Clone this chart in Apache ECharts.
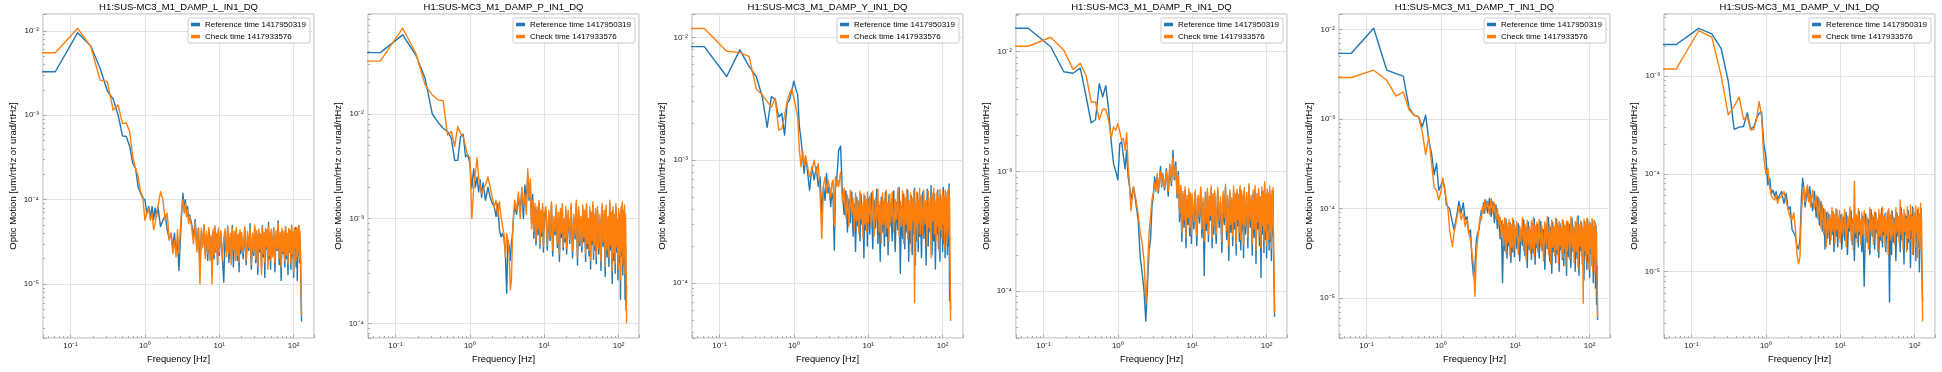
<!DOCTYPE html>
<html>
<head>
<meta charset="utf-8">
<script src="https://cdn.jsdelivr.net/npm/echarts@6.0.0/dist/echarts.min.js"></script>
<style>
html,body{margin:0;padding:0;background:#fff;}
#c{width:1942px;height:372px;}
</style>
</head>
<body>
<div id="c"></div>
<script>
// ---------------- DATA ----------------
// Frequency bins [Hz]. First entry stands for the DC bin (drawn off the left edge of the log axis).
const freqs = [0.01,
  0.0625,0.125,0.1875,0.25,0.3125,0.375,0.4375,0.5,0.5625,0.625,0.6875,0.75,0.8125,0.875,0.9375,1,1.0625,1.125,1.1875,1.25,1.3125,1.375,1.4375,1.5,
  1.625,1.75,1.875,2,2.125,2.25,2.375,2.5,2.625,2.75,2.875,3,3.125,3.25,3.375,3.5,3.625,3.75,3.875,4,
  4.25,4.5,4.75,5,5.25,5.5,5.75,6,6.25,6.5,6.75,7,7.25,7.5,7.75,8,8.25,8.5,8.75,9,9.25,9.5,9.75,10,
  10.5,11,11.5,12,12.5,13,13.5,14,14.5,15,15.5,16,16.5,17,17.5,18,18.5,19,19.5,20,
  21,22,23,24,25,26,27,28,29,30,31,32,33,34,35,36,37,38,39,40,41,42,43,44,45,46,47,48,49,50,
  52,54,56,58,60,62,64,66,68,70,72,74,76,78,80,82,84,86,88,90,92,94,96,98,100,102,104,106,108,110,112,114,116,118,120,122,124,126,128];

const panelTitles = ['H1:SUS-MC3_M1_DAMP_L_IN1_DQ','H1:SUS-MC3_M1_DAMP_P_IN1_DQ','H1:SUS-MC3_M1_DAMP_Y_IN1_DQ',
  'H1:SUS-MC3_M1_DAMP_R_IN1_DQ','H1:SUS-MC3_M1_DAMP_T_IN1_DQ','H1:SUS-MC3_M1_DAMP_V_IN1_DQ'];
const seriesNames = ['Reference time 1417950319','Check time 1417933576'];
const xName = 'Frequency [Hz]';
const yName = 'Optic Motion [um/rtHz or urad/rtHz]';
const xRange = [0.0427, 188];
const yMins = [2.3e-6, 7.24e-5, 3.56e-5, 4.05e-5, 3.6e-6, 2.1e-6];
const yMaxs = [0.0158, 0.0902, 0.01549, 0.02065, 0.01483, 0.0043];

// ---- L ----
const refL = [3.27e-3,
  3.27e-3,9.5e-3,6.6e-3,3.6e-3,1.95e-3,1.55e-3,1.0e-3,5.7e-4,5.6e-4,4.3e-4,2.7e-4,2.35e-4,1.4e-4,1.2e-4,1.04e-4,1.0e-4,6.9e-5,8.3e-5,6.3e-5,8.3e-5,5.8e-5,8.0e-5,6.3e-5,8.3e-5,
  4.8e-5,5.7e-5,6.6e-5,4.4e-5,3.4e-5,4.0e-5,2.7e-5,4.0e-5,2.3e-5,3.3e-5,1.45e-5,3.3e-5,6.9e-5,1.19e-4,7.6e-5,1.0e-4,6.9e-5,8.3e-5,5.7e-5,6.6e-5,
  5.2e-5,3.6e-5,5.8e-5,2.6e-5,4.6e-5,1.6e-5,4.2e-5,2.9e-5,5.0e-5,2.2e-5,3.9e-5,1.9e-5,4.4e-5,2.5e-5,3.6e-5,1.3e-5,4.1e-5,2.0e-5,4.7e-5,2.4e-5,3.8e-5,1.7e-5,4.3e-5,2.2e-5,
  4.0e-5,2.1e-5,1.05e-5,3.9e-5,2.4e-5,4.6e-5,1.8e-5,3.5e-5,2.2e-5,4.9e-5,1.6e-5,3.7e-5,2.6e-5,4.4e-5,1.9e-5,3.2e-5,1.4e-5,4.1e-5,2.3e-5,3.6e-5,
  2.0e-5,4.5e-5,1.7e-5,3.8e-5,2.5e-5,5.2e-5,1.5e-5,3.4e-5,2.2e-5,4.7e-5,1.8e-5,3.9e-5,1.3e-5,4.2e-5,2.4e-5,3.6e-5,1.6e-5,4.9e-5,2.1e-5,3.3e-5,1.2e-5,4.4e-5,2.6e-5,3.8e-5,1.7e-5,5.4e-5,2.0e-5,3.5e-5,1.5e-5,4.1e-5,
  2.2e-5,4.6e-5,1.4e-5,3.7e-5,2.5e-5,5.6e-5,1.7e-5,3.9e-5,1.1e-5,4.3e-5,2.3e-5,3.5e-5,1.6e-5,4.8e-5,2.0e-5,3.2e-5,1.3e-5,4.5e-5,2.4e-5,3.9e-5,1.5e-5,5.0e-5,2.1e-5,3.6e-5,1.2e-5,4.2e-5,2.6e-5,4.7e-5,1.6e-5,3.8e-5,1.1e-5,4.4e-5,2.2e-5,4.9e-5,1.8e-5,3.4e-5,1.9e-5,6.5e-6,3.6e-6];
const chkL = [5.5e-3,
  5.5e-3,1.07e-2,6.5e-3,2.6e-3,2.5e-3,1.15e-3,1.32e-3,8.0e-4,8.1e-4,6.4e-4,3.2e-4,2.35e-4,1.87e-4,1.24e-4,1.09e-4,5.7e-5,6.9e-5,7.9e-5,5.7e-5,6.9e-5,4.4e-5,5.2e-5,6.9e-5,8.3e-5,
  1.24e-4,1.0e-4,5.7e-5,6.9e-5,3.3e-5,4.0e-5,2.3e-5,3.3e-5,2.1e-5,4.4e-5,2.3e-5,4.4e-5,8.0e-5,1.0e-4,6.9e-5,9.1e-5,6.3e-5,7.6e-5,5.2e-5,6.3e-5,
  4.8e-5,3.0e-5,5.4e-5,2.4e-5,4.4e-5,1.0e-5,4.6e-5,2.7e-5,5.1e-5,2.0e-5,4.2e-5,2.3e-5,4.7e-5,1.9e-5,3.8e-5,1.0e-5,4.5e-5,2.2e-5,4.9e-5,2.5e-5,4.0e-5,1.8e-5,4.6e-5,2.4e-5,
  4.3e-5,1.9e-5,3.5e-5,4.5e-5,2.1e-5,4.9e-5,2.3e-5,4.0e-5,1.7e-5,4.6e-5,2.5e-5,4.2e-5,1.9e-5,4.7e-5,2.2e-5,3.9e-5,1.8e-5,4.4e-5,2.6e-5,4.1e-5,
  2.3e-5,4.8e-5,1.9e-5,4.2e-5,2.7e-5,4.6e-5,1.7e-5,4.0e-5,2.4e-5,5.0e-5,2.0e-5,4.3e-5,1.6e-5,4.5e-5,2.6e-5,3.9e-5,1.3e-5,4.7e-5,2.3e-5,4.1e-5,1.8e-5,4.6e-5,2.8e-5,4.4e-5,1.5e-5,4.9e-5,2.2e-5,4.0e-5,1.9e-5,4.5e-5,
  2.1e-5,4.7e-5,1.8e-5,4.3e-5,2.6e-5,5.2e-5,2.0e-5,4.1e-5,1.6e-5,4.6e-5,2.4e-5,4.2e-5,1.9e-5,4.8e-5,2.2e-5,4.0e-5,1.7e-5,4.5e-5,2.5e-5,4.3e-5,1.8e-5,4.9e-5,2.3e-5,4.1e-5,1.4e-5,4.6e-5,2.7e-5,4.4e-5,1.9e-5,4.7e-5,2.1e-5,4.5e-5,2.4e-5,5.0e-5,2.0e-5,4.2e-5,2.2e-5,1.0e-5,4.3e-6];

// ---- P ----
const refP = [3.86e-2,
  3.86e-2,5.7e-2,3.66e-2,2.19e-2,1.0e-2,8.3e-3,7.3e-3,6.8e-3,5.9e-3,3.6e-3,3.6e-3,6.1e-3,6.4e-3,3.9e-3,4.1e-3,3.4e-3,1.95e-3,3.0e-3,2.0e-3,2.5e-3,1.8e-3,2.35e-3,1.6e-3,2.2e-3,
  1.5e-3,2.0e-3,1.6e-3,1.4e-3,1.3e-3,1.05e-3,1.4e-3,7.8e-4,6.7e-4,7.2e-4,6.5e-4,4.7e-4,1.94e-4,6.2e-4,5.4e-4,4.0e-4,5.9e-4,7.2e-4,1.05e-3,1.3e-3,
  1.1e-3,1.6e-3,1.2e-3,1.9e-3,1.0e-3,2.1e-3,1.4e-3,2.6e-3,1.5e-3,2.2e-3,9.0e-4,1.7e-3,6.5e-4,1.3e-3,5.6e-4,1.2e-3,7.0e-4,1.4e-3,5.2e-4,1.1e-3,6.8e-4,1.3e-3,4.8e-4,1.0e-3,
  1.2e-3,5.0e-4,1.1e-3,6.2e-4,1.35e-3,4.4e-4,9.5e-4,7.0e-4,1.25e-3,5.3e-4,1.0e-3,3.9e-4,1.15e-3,6.6e-4,1.3e-3,5.0e-4,9.0e-4,6.0e-4,1.2e-3,4.6e-4,
  1.1e-3,5.8e-4,1.3e-3,4.2e-4,1.0e-3,6.4e-4,1.4e-3,3.6e-4,1.2e-3,5.5e-4,9.8e-4,4.8e-4,1.25e-3,6.0e-4,1.1e-3,3.9e-4,1.3e-3,5.2e-4,9.2e-4,4.4e-4,1.2e-3,3.3e-4,1.05e-3,5.7e-4,1.35e-3,4.1e-4,1.0e-3,5.0e-4,1.15e-3,3.7e-4,
  1.2e-3,4.6e-4,1.0e-3,3.2e-4,1.3e-3,5.4e-4,1.1e-3,2.8e-4,1.25e-3,4.3e-4,9.5e-4,3.5e-4,1.4e-3,5.0e-4,1.05e-3,2.4e-4,1.2e-3,4.0e-4,1.0e-3,3.0e-4,1.3e-3,4.8e-4,9.0e-4,2.6e-4,1.15e-3,3.8e-4,1.0e-3,1.7e-4,1.2e-3,4.4e-4,1.35e-3,2.9e-4,1.1e-3,3.6e-4,1.25e-3,1.7e-4,5.5e-4,1.35e-4,2.3e-4];
const chkP = [3.2e-2,
  3.2e-2,6.6e-2,3.8e-2,1.9e-2,1.52e-2,1.36e-2,1.34e-2,6.3e-3,6.8e-3,4.9e-3,7.6e-3,6.5e-3,6.1e-3,4.9e-3,3.9e-3,3.9e-3,1.0e-3,1.95e-3,1.9e-3,3.8e-3,2.5e-3,2.0e-3,1.75e-3,1.9e-3,
  2.1e-3,2.5e-3,2.0e-3,1.6e-3,1.3e-3,1.5e-3,1.05e-3,1.45e-3,1.05e-3,8.4e-4,7.2e-4,4.3e-4,7.2e-4,6.2e-4,4.7e-4,2.1e-4,2.6e-4,7.2e-4,1.1e-3,1.5e-3,
  1.2e-3,1.8e-3,1.0e-3,2.0e-3,1.3e-3,1.7e-3,1.1e-3,3.0e-3,1.6e-3,2.4e-3,8.0e-4,1.5e-3,7.5e-4,1.4e-3,6.2e-4,1.3e-3,7.8e-4,1.5e-3,5.8e-4,1.2e-3,7.4e-4,1.4e-3,5.4e-4,1.1e-3,
  1.3e-3,5.6e-4,1.2e-3,6.8e-4,1.45e-3,5.0e-4,1.05e-3,7.6e-4,1.35e-3,5.8e-4,1.15e-3,4.6e-4,1.25e-3,7.2e-4,1.4e-3,5.4e-4,1.0e-3,6.5e-4,1.3e-3,5.2e-4,
  1.2e-3,6.3e-4,1.4e-3,4.9e-4,1.1e-3,7.0e-4,1.5e-3,4.3e-4,1.3e-3,6.0e-4,1.05e-3,5.4e-4,1.35e-3,6.6e-4,1.2e-3,4.6e-4,1.4e-3,5.8e-4,1.0e-3,5.0e-4,1.3e-3,4.0e-4,1.15e-3,6.2e-4,1.45e-3,4.8e-4,1.1e-3,5.6e-4,1.25e-3,4.4e-4,
  1.3e-3,5.2e-4,1.1e-3,3.9e-4,1.4e-3,6.0e-4,1.2e-3,3.5e-4,1.35e-3,5.0e-4,1.05e-3,4.2e-4,1.5e-3,5.6e-4,1.15e-3,3.2e-4,1.3e-3,4.7e-4,1.1e-3,3.7e-4,1.4e-3,5.4e-4,1.0e-3,3.3e-4,1.25e-3,4.5e-4,1.1e-3,2.6e-4,1.3e-3,5.0e-4,1.45e-3,3.6e-4,1.2e-3,4.3e-4,1.35e-3,3.0e-4,1.1e-3,4.0e-4,1.0e-4];

// ---- Y ----
const refY = [8.4e-3,
  8.4e-3,4.8e-3,7.9e-3,5.8e-3,4.8e-3,3.3e-3,1.85e-3,3.3e-3,3.1e-3,2.25e-3,2.4e-3,1.6e-3,2.9e-3,3.1e-3,3.7e-3,4.4e-3,3.8e-3,3.4e-3,1.87e-3,1.46e-3,1.08e-3,7.8e-4,1.08e-3,8.8e-4,
  5.7e-4,8.8e-4,6.9e-4,8.8e-4,6.1e-4,7.3e-4,3.7e-4,6.1e-4,4.7e-4,7.8e-4,5.4e-4,6.1e-4,4.2e-4,5.4e-4,4.7e-4,1.85e-4,6.1e-4,6.9e-4,8.8e-4,1.2e-3,
  1.3e-3,5.2e-4,3.6e-4,5.6e-4,2.6e-4,4.8e-4,3.1e-4,5.5e-4,2.4e-4,4.4e-4,1.8e-4,5.0e-4,2.9e-4,4.6e-4,2.2e-4,5.3e-4,3.0e-4,4.2e-4,1.6e-4,5.1e-4,2.7e-4,4.5e-4,2.0e-4,4.9e-4,
  2.5e-4,5.4e-4,1.9e-4,4.7e-4,2.8e-4,5.8e-4,2.1e-4,4.3e-4,1.5e-4,5.0e-4,2.6e-4,4.6e-4,2.0e-4,5.5e-4,2.4e-4,4.1e-4,1.7e-4,5.2e-4,2.9e-4,4.4e-4,
  2.2e-4,5.6e-4,1.8e-4,4.5e-4,2.7e-4,6.0e-4,1.2e-4,4.2e-4,2.3e-4,5.3e-4,1.9e-4,4.8e-4,2.6e-4,5.7e-4,1.5e-4,4.4e-4,2.1e-4,5.1e-4,1.7e-4,4.6e-4,2.5e-4,5.9e-4,1.4e-4,4.3e-4,2.2e-4,5.4e-4,1.8e-4,4.7e-4,2.4e-4,5.0e-4,
  1.6e-4,5.5e-4,2.3e-4,4.6e-4,1.4e-4,5.8e-4,2.0e-4,4.4e-4,2.6e-4,6.2e-4,1.7e-4,4.9e-4,2.2e-4,5.3e-4,1.3e-4,4.5e-4,2.5e-4,5.7e-4,1.9e-4,4.8e-4,1.5e-4,5.2e-4,2.4e-4,4.4e-4,1.8e-4,6.0e-4,2.1e-4,4.7e-4,1.6e-4,5.4e-4,2.3e-4,4.6e-4,1.7e-4,5.6e-4,2.0e-4,6.4e-4,7.2e-5,1.2e-4,6.0e-5];
const chkY = [1.18e-2,
  1.18e-2,7.7e-3,7.5e-3,7.0e-3,3.8e-3,3.4e-3,3.0e-3,2.7e-3,3.2e-3,1.76e-3,1.8e-3,2.3e-3,3.0e-3,3.5e-3,3.8e-3,3.2e-3,2.7e-3,2.25e-3,1.2e-3,8.8e-4,1.2e-3,9.1e-4,1.08e-3,9.4e-4,
  7.3e-4,8.3e-4,1.0e-3,7.8e-4,9.4e-4,5.4e-4,2.3e-4,6.1e-4,7.3e-4,5.4e-4,6.9e-4,6.1e-4,5.0e-4,6.5e-4,6.9e-4,2.9e-4,7.3e-4,6.1e-4,6.9e-4,6.1e-4,
  8.0e-4,4.6e-4,5.9e-4,3.4e-4,5.2e-4,2.9e-4,5.7e-4,3.6e-4,4.9e-4,2.7e-4,5.4e-4,3.2e-4,4.7e-4,2.5e-4,5.6e-4,3.3e-4,4.5e-4,2.3e-4,5.3e-4,3.0e-4,4.8e-4,2.6e-4,5.5e-4,3.1e-4,
  5.1e-4,2.8e-4,5.6e-4,2.4e-4,4.9e-4,3.2e-4,5.8e-4,2.6e-4,4.6e-4,2.1e-4,5.4e-4,3.0e-4,4.8e-4,2.5e-4,5.7e-4,2.8e-4,4.5e-4,2.2e-4,5.3e-4,3.1e-4,
  5.5e-4,2.6e-4,4.8e-4,3.3e-4,5.9e-4,2.4e-4,4.6e-4,2.9e-4,5.6e-4,2.1e-4,5.0e-4,3.0e-4,5.8e-4,2.3e-4,4.7e-4,2.7e-4,5.4e-4,1.8e-4,4.9e-4,3.2e-4,5.7e-4,6.9e-5,4.5e-4,2.8e-4,5.5e-4,2.2e-4,4.8e-4,3.1e-4,5.9e-4,2.5e-4,
  5.2e-4,2.4e-4,5.7e-4,3.0e-4,4.7e-4,2.0e-4,5.6e-4,2.8e-4,4.9e-4,1.6e-4,5.4e-4,3.2e-4,5.9e-4,2.5e-4,4.6e-4,2.2e-4,5.5e-4,2.9e-4,5.0e-4,1.8e-4,5.8e-4,2.7e-4,4.8e-4,2.3e-4,5.6e-4,3.0e-4,5.1e-4,1.9e-4,5.7e-4,2.6e-4,4.9e-4,2.1e-4,5.5e-4,2.8e-4,5.8e-4,2.4e-4,5.0e-4,1.5e-4,4.9e-5];

// ---- R ----
const refR = [1.57e-2,
  1.57e-2,1.1e-2,6.8e-3,6.6e-3,7.3e-3,4.2e-3,2.55e-3,2.7e-3,5.4e-3,4.2e-3,5.2e-3,3.3e-3,1.8e-3,1.16e-3,1.0e-3,8.5e-4,1.7e-3,1.77e-3,1.33e-3,1.05e-3,1.5e-3,9.0e-4,7.4e-4,5.8e-4,
  7.4e-4,5.4e-4,3.9e-4,1.9e-4,1.4e-4,1.0e-4,5.6e-5,1.1e-4,2.2e-4,2.7e-4,5.1e-4,6.2e-4,9.0e-4,7.4e-4,9.0e-4,6.6e-4,8.5e-4,1.1e-3,7.4e-4,9.6e-4,
  7.0e-4,1.05e-3,6.2e-4,1.1e-3,7.6e-4,1.5e-3,8.5e-4,1.2e-3,6.0e-4,1.0e-3,3.8e-4,7.2e-4,2.6e-4,6.4e-4,3.4e-4,7.0e-4,2.3e-4,5.8e-4,3.6e-4,6.9e-4,2.9e-4,6.3e-4,2.5e-4,6.0e-4,
  3.3e-4,6.6e-4,2.4e-4,5.9e-4,3.7e-4,7.0e-4,2.8e-4,5.5e-4,1.35e-4,6.2e-4,3.2e-4,6.8e-4,2.6e-4,5.7e-4,3.9e-4,7.2e-4,2.3e-4,6.0e-4,3.0e-4,6.5e-4,
  2.5e-4,6.9e-4,3.4e-4,5.6e-4,2.1e-4,6.3e-4,3.6e-4,7.4e-4,2.7e-4,5.8e-4,1.8e-4,6.6e-4,3.1e-4,5.5e-4,2.4e-4,7.0e-4,3.3e-4,6.1e-4,2.0e-4,6.7e-4,3.5e-4,5.9e-4,2.6e-4,7.2e-4,2.2e-4,6.4e-4,3.2e-4,5.7e-4,1.9e-4,6.8e-4,
  3.0e-4,6.2e-4,2.3e-4,7.6e-4,3.4e-4,5.8e-4,2.0e-4,6.5e-4,2.8e-4,7.1e-4,1.7e-4,6.0e-4,3.3e-4,6.7e-4,2.4e-4,5.6e-4,1.3e-4,6.9e-4,3.0e-4,6.3e-4,2.1e-4,7.8e-4,2.7e-4,5.9e-4,1.9e-4,6.6e-4,3.2e-4,6.1e-4,2.2e-4,7.0e-4,2.6e-4,5.7e-4,1.8e-4,6.4e-4,2.9e-4,6.8e-4,2.0e-4,1.1e-4,6.1e-5];
const chkR = [1.11e-2,
  1.11e-2,1.32e-2,1.03e-2,7.1e-3,8.0e-3,6.3e-3,3.8e-3,3.8e-3,2.7e-3,3.3e-3,3.3e-3,2.7e-3,1.9e-3,2.35e-3,2.2e-3,2.5e-3,2.15e-3,1.8e-3,1.9e-3,1.5e-3,2.1e-3,1.1e-3,7.7e-4,4.7e-4,
  7.4e-4,5.8e-4,4.4e-4,3.05e-4,2.5e-4,1.8e-4,7.9e-5,1.4e-4,3.05e-4,4.2e-4,5.8e-4,6.6e-4,8.0e-4,6.8e-4,9.6e-4,7.0e-4,8.8e-4,1.0e-3,7.7e-4,9.4e-4,
  7.4e-4,1.0e-3,6.8e-4,1.15e-3,8.0e-4,1.3e-3,9.0e-4,1.1e-3,6.4e-4,9.2e-4,4.4e-4,7.6e-4,3.1e-4,6.8e-4,3.9e-4,7.4e-4,2.8e-4,6.3e-4,4.1e-4,7.2e-4,3.4e-4,6.6e-4,3.0e-4,6.4e-4,
  3.8e-4,7.0e-4,2.9e-4,6.3e-4,4.2e-4,7.4e-4,3.3e-4,6.0e-4,2.6e-4,6.7e-4,3.7e-4,7.2e-4,3.0e-4,6.2e-4,4.3e-4,7.6e-4,2.8e-4,6.5e-4,3.5e-4,6.9e-4,
  3.0e-4,7.3e-4,3.9e-4,6.1e-4,2.6e-4,6.8e-4,4.1e-4,7.8e-4,3.2e-4,6.3e-4,2.4e-4,7.0e-4,3.6e-4,6.0e-4,2.9e-4,7.5e-4,3.8e-4,6.5e-4,2.5e-4,7.1e-4,4.0e-4,6.4e-4,3.1e-4,7.6e-4,2.7e-4,6.9e-4,3.7e-4,6.2e-4,2.4e-4,7.3e-4,
  3.5e-4,6.7e-4,2.8e-4,7.9e-4,3.9e-4,6.3e-4,2.5e-4,7.0e-4,3.3e-4,7.6e-4,2.2e-4,6.5e-4,3.8e-4,7.2e-4,2.9e-4,6.1e-4,2.3e-4,7.4e-4,3.5e-4,6.8e-4,2.6e-4,8.2e-4,3.2e-4,6.4e-4,2.4e-4,7.1e-4,3.7e-4,6.6e-4,2.7e-4,7.5e-4,3.1e-4,6.2e-4,2.3e-4,6.9e-4,3.4e-4,7.3e-4,2.5e-4,1.6e-4,6.6e-5];

// ---- T ----
const refT = [5.4e-3,
  5.4e-3,1.03e-2,3.5e-3,3.2e-3,3.0e-3,1.32e-3,1.1e-3,1.06e-3,8.2e-4,1.1e-3,5.8e-4,4.1e-4,2.4e-4,3.2e-4,1.6e-4,1.8e-4,2.1e-4,1.7e-4,1.1e-4,1.1e-4,1.0e-4,8.1e-5,6.9e-5,5.8e-5,
  8.1e-5,1.2e-4,8.9e-5,1.16e-4,7.5e-5,8.1e-5,5.3e-5,5.8e-5,2.7e-5,1.75e-5,2.3e-5,4.5e-5,5.3e-5,5.8e-5,7.5e-5,9.6e-5,8.9e-5,1.16e-4,8.9e-5,1.25e-4,
  9.0e-5,1.3e-4,8.2e-5,1.2e-4,7.0e-5,1.1e-4,6.0e-5,8.5e-5,4.6e-5,7.2e-5,1.5e-5,6.6e-5,3.4e-5,7.6e-5,2.8e-5,6.2e-5,3.8e-5,7.0e-5,2.5e-5,6.4e-5,3.3e-5,7.4e-5,2.9e-5,6.0e-5,
  3.6e-5,6.8e-5,2.6e-5,5.9e-5,3.9e-5,7.5e-5,3.0e-5,6.3e-5,2.2e-5,7.1e-5,3.5e-5,5.7e-5,2.7e-5,6.9e-5,3.2e-5,7.7e-5,2.4e-5,6.1e-5,3.7e-5,6.6e-5,
  2.8e-5,7.2e-5,3.4e-5,5.8e-5,2.1e-5,6.7e-5,3.6e-5,7.9e-5,2.6e-5,6.2e-5,1.9e-5,7.0e-5,3.3e-5,6.0e-5,2.5e-5,7.6e-5,3.1e-5,6.4e-5,2.0e-5,6.8e-5,3.5e-5,5.9e-5,2.7e-5,7.3e-5,2.3e-5,6.5e-5,3.2e-5,6.1e-5,1.8e-5,7.1e-5,
  2.9e-5,6.6e-5,2.2e-5,7.8e-5,3.3e-5,6.0e-5,2.0e-5,6.9e-5,2.8e-5,8.3e-5,1.8e-5,6.3e-5,3.4e-5,7.0e-5,2.4e-5,5.8e-5,1.6e-5,7.2e-5,3.0e-5,6.5e-5,2.1e-5,7.6e-5,2.6e-5,6.1e-5,1.7e-5,6.8e-5,3.2e-5,6.2e-5,2.3e-5,7.4e-5,1.5e-5,6.0e-5,2.5e-5,7.0e-5,1.3e-5,6.4e-5,8.5e-6,2.3e-5,5.7e-6];
const chkT = [2.9e-3,
  2.9e-3,3.5e-3,2.7e-3,1.8e-3,2.0e-3,1.26e-3,1.1e-3,1.06e-3,7.2e-4,4.0e-4,6.3e-4,3.2e-4,1.7e-4,1.6e-4,1.25e-4,1.5e-4,2.2e-4,1.6e-4,1.25e-4,9.6e-5,5.8e-5,4.5e-5,3.8e-5,5.3e-5,
  7.5e-5,1.05e-4,7.5e-5,8.9e-5,6.3e-5,7.5e-5,5.3e-5,4.5e-5,3.2e-5,2.3e-5,1.05e-5,3.2e-5,4.5e-5,6.3e-5,8.1e-5,7.5e-5,1.05e-4,8.9e-5,1.25e-4,9.6e-5,
  1.2e-4,8.6e-5,1.3e-4,9.0e-5,1.15e-4,7.6e-5,1.0e-4,6.6e-5,8.0e-5,4.8e-5,7.4e-5,3.8e-5,7.9e-5,3.2e-5,6.9e-5,4.2e-5,7.5e-5,3.0e-5,6.7e-5,3.7e-5,7.8e-5,3.3e-5,6.5e-5,4.0e-5,
  7.2e-5,3.1e-5,6.4e-5,4.3e-5,7.9e-5,3.4e-5,6.7e-5,2.7e-5,7.4e-5,3.9e-5,6.2e-5,3.2e-5,7.3e-5,3.6e-5,8.0e-5,2.9e-5,6.5e-5,4.1e-5,7.0e-5,3.3e-5,
  7.6e-5,3.8e-5,6.3e-5,2.6e-5,7.1e-5,4.0e-5,8.2e-5,3.1e-5,6.6e-5,2.4e-5,7.4e-5,3.7e-5,6.4e-5,3.0e-5,7.8e-5,3.5e-5,6.8e-5,2.5e-5,7.2e-5,3.9e-5,6.2e-5,3.2e-5,7.5e-5,2.8e-5,6.9e-5,3.6e-5,6.5e-5,2.3e-5,7.3e-5,3.4e-5,
  6.9e-5,2.7e-5,8.1e-5,3.7e-5,6.4e-5,2.5e-5,7.2e-5,3.3e-5,7.9e-5,2.2e-5,6.7e-5,3.8e-5,7.3e-5,2.9e-5,6.2e-5,8.8e-6,7.6e-5,3.4e-5,6.8e-5,2.6e-5,7.8e-5,3.1e-5,6.4e-5,2.1e-5,7.1e-5,3.6e-5,6.6e-5,2.7e-5,7.7e-5,2.0e-5,6.3e-5,3.0e-5,7.4e-5,1.9e-5,6.8e-5,2.8e-5,5.5e-5,1.6e-5,6.0e-6];

// ---- V ----
const refV = [2.1e-3,
  2.1e-3,3.07e-3,2.7e-3,1.92e-3,8.8e-4,2.85e-4,3.0e-4,3.05e-4,4.2e-4,2.9e-4,3.0e-4,3.7e-4,4.15e-4,4.3e-4,2.05e-4,1.5e-4,7.7e-5,9.0e-5,6.3e-5,6.8e-5,5.9e-5,6.6e-5,5.4e-5,5.9e-5,
  6.6e-5,5.0e-5,6.3e-5,4.3e-5,4.6e-5,2.7e-5,2.5e-5,2.3e-5,1.8e-5,1.7e-5,2.1e-5,5.4e-5,9.0e-5,6.8e-5,4.6e-5,5.9e-5,6.8e-5,5.4e-5,7.4e-5,5.9e-5,
  4.2e-5,6.6e-5,3.6e-5,5.8e-5,3.0e-5,5.2e-5,2.6e-5,4.4e-5,1.7e-5,4.0e-5,2.2e-5,3.9e-5,1.9e-5,3.5e-5,2.4e-5,4.1e-5,1.6e-5,3.7e-5,2.3e-5,4.3e-5,1.8e-5,3.3e-5,2.5e-5,3.8e-5,
  1.7e-5,3.6e-5,2.1e-5,4.0e-5,1.5e-5,3.4e-5,2.6e-5,4.2e-5,1.9e-5,3.3e-5,1.3e-5,3.8e-5,2.2e-5,3.5e-5,1.8e-5,4.1e-5,2.4e-5,3.2e-5,1.6e-5,3.7e-5,
  7.1e-6,3.9e-5,2.0e-5,3.4e-5,1.5e-5,4.3e-5,2.3e-5,3.6e-5,1.7e-5,4.0e-5,2.5e-5,3.3e-5,1.4e-5,3.8e-5,2.1e-5,4.4e-5,1.8e-5,3.5e-5,2.4e-5,3.9e-5,1.6e-5,3.2e-5,2.2e-5,4.2e-5,1.9e-5,4.9e-6,2.6e-5,3.7e-5,1.5e-5,4.1e-5,
  2.0e-5,3.5e-5,1.3e-5,4.0e-5,2.3e-5,3.6e-5,1.6e-5,4.5e-5,2.1e-5,3.3e-5,1.2e-5,3.9e-5,2.4e-5,3.7e-5,1.7e-5,4.2e-5,2.0e-5,3.4e-5,1.1e-5,3.8e-5,2.2e-5,4.6e-5,1.5e-5,3.5e-5,2.5e-5,4.0e-5,1.3e-5,3.6e-5,2.1e-5,4.3e-5,1.8e-5,3.3e-5,1.0e-5,3.9e-5,2.3e-5,4.4e-5,1.4e-5,8.0e-6,5.0e-6];
const chkV = [1.18e-3,
  1.18e-3,2.9e-3,2.5e-3,1.02e-3,4.0e-4,4.9e-4,6.1e-4,3.6e-4,3.85e-4,2.8e-4,2.85e-4,3.6e-4,5.5e-4,3.85e-4,1.5e-4,1.0e-4,1.14e-4,7.4e-5,5.9e-5,6.1e-5,5.4e-5,6.1e-5,5.0e-5,5.6e-5,
  5.9e-5,6.6e-5,5.2e-5,4.3e-5,3.6e-5,3.4e-5,4.0e-5,2.7e-5,1.5e-5,1.2e-5,1.4e-5,4.0e-5,5.9e-5,7.4e-5,5.2e-5,6.8e-5,7.7e-5,5.2e-5,6.3e-5,4.6e-5,
  6.8e-5,4.4e-5,6.0e-5,3.5e-5,5.5e-5,2.8e-5,4.8e-5,2.4e-5,4.3e-5,1.8e-5,4.1e-5,2.5e-5,3.8e-5,2.1e-5,4.5e-5,2.6e-5,3.9e-5,1.9e-5,4.4e-5,2.7e-5,3.6e-5,2.2e-5,4.2e-5,2.0e-5,
  3.9e-5,2.3e-5,4.3e-5,1.8e-5,3.7e-5,2.8e-5,4.6e-5,2.1e-5,3.5e-5,1.7e-5,8.4e-5,2.5e-5,3.8e-5,2.0e-5,4.4e-5,2.6e-5,3.4e-5,1.9e-5,4.0e-5,2.4e-5,
  4.2e-5,2.2e-5,3.6e-5,1.7e-5,4.5e-5,2.5e-5,3.8e-5,1.9e-5,4.1e-5,2.7e-5,3.5e-5,1.6e-5,4.3e-5,2.3e-5,3.9e-5,2.0e-5,4.6e-5,2.6e-5,3.7e-5,1.8e-5,4.0e-5,2.4e-5,3.4e-5,1.5e-5,4.4e-5,2.8e-5,3.8e-5,2.1e-5,4.2e-5,2.3e-5,
  3.6e-5,1.9e-5,4.5e-5,2.5e-5,3.7e-5,2.0e-5,5.4e-5,2.4e-5,3.9e-5,1.7e-5,4.3e-5,2.6e-5,3.5e-5,1.6e-5,4.6e-5,2.2e-5,3.8e-5,2.0e-5,4.8e-5,2.7e-5,3.6e-5,1.5e-5,4.4e-5,2.3e-5,3.9e-5,1.8e-5,4.7e-5,2.5e-5,3.7e-5,1.4e-5,4.5e-5,2.1e-5,3.6e-5,1.7e-5,5.0e-5,2.4e-5,3.5e-5,1.0e-5,3.1e-6];

const refSeries = [refL, refP, refY, refR, refT, refV];
const chkSeries = [chkL, chkP, chkY, chkR, chkT, chkV];

// ---------------- LAYOUT / STYLE ----------------
const W = 1942;
const gridLefts = [43, 368, 692, 1016, 1339, 1664];
const gridW = 271, gridTop = 14, gridH = 324;
const FONT = '"Liberation Sans", Arial, Helvetica, sans-serif';
const BLUE = '#1f77b4', ORANGE = '#ff7f0e';

[...refSeries, ...chkSeries].forEach((a, i) => {
  if (a.length !== freqs.length) throw new Error('length mismatch in series ' + i + ': ' + a.length + ' vs ' + freqs.length);
});

const SUP = {'-':'\u207B','0':'\u2070','1':'\u00B9','2':'\u00B2','3':'\u00B3','4':'\u2074','5':'\u2075','6':'\u2076','7':'\u2077','8':'\u2078','9':'\u2079'};
function powLabel(v) {
  const e = Math.log10(v);
  const r = Math.round(e);
  if (Math.abs(e - r) > 1e-6) return '';
  return '10' + String(r).split('').map(c => SUP[c]).join('');
}

const grids = [], xAxes = [], yAxes = [], titles = [], legends = [], series = [];
for (let i = 0; i < 6; i++) {
  const left = gridLefts[i];
  grids.push({left: left, top: gridTop, width: gridW, height: gridH, show: true,
    borderColor: '#b3b3b3', borderWidth: 1, backgroundColor: 'transparent'});
  titles.push({text: panelTitles[i], left: left + gridW / 2, top: 2, textAlign: 'center', padding: 0,
    textStyle: {fontSize: 9.5, fontWeight: 'normal', color: '#000', fontFamily: FONT}});
  const tickStyle = {color: '#9a9a9a', width: 0.8};
  xAxes.push({type: 'log', logBase: 10, gridIndex: i, min: xRange[0], max: xRange[1],
    axisLine: {show: false, onZero: false},
    axisTick: {show: true, inside: true, length: 3.5, lineStyle: tickStyle},
    minorTick: {show: true, splitNumber: 9, length: 2, lineStyle: tickStyle},
    splitLine: {show: true, lineStyle: {color: '#e3e3e3', width: 1}},
    axisLabel: {formatter: powLabel, fontSize: 8, color: '#222', margin: 4, fontFamily: FONT,
      showMinLabel: false, showMaxLabel: false},
    name: xName, nameLocation: 'middle', nameGap: 16,
    nameTextStyle: {fontSize: 9.3, color: '#000', fontFamily: FONT}});
  yAxes.push({type: 'log', logBase: 10, gridIndex: i, min: yMins[i], max: yMaxs[i],
    axisLine: {show: false},
    axisTick: {show: true, inside: true, length: 3.5, lineStyle: tickStyle},
    minorTick: {show: true, splitNumber: 9, length: 2, lineStyle: tickStyle},
    splitLine: {show: true, lineStyle: {color: '#e3e3e3', width: 1}},
    axisLabel: {formatter: powLabel, fontSize: 8, color: '#222', margin: 4, fontFamily: FONT,
      showMinLabel: false, showMaxLabel: false},
    name: yName, nameLocation: 'middle', nameGap: 25,
    nameTextStyle: {fontSize: 9.5, color: '#000', fontFamily: FONT}});
  legends.push({orient: 'vertical', right: W - (left + gridW - 4), top: 18,
    data: seriesNames, icon: 'rect', itemWidth: 9, itemHeight: 3.5, itemGap: 2,
    selectedMode: false, padding: [1.5, 4, 1.5, 3],
    backgroundColor: 'rgba(255,255,255,0.85)', borderColor: '#cccccc', borderWidth: 1, borderRadius: 2,
    textStyle: {fontSize: 8, lineHeight: 10, color: '#000', fontFamily: FONT}});
  const pairs = [[refSeries[i], BLUE, seriesNames[0]], [chkSeries[i], ORANGE, seriesNames[1]]];
  pairs.forEach(([vals, col, nm], k) => {
    series.push({type: 'line', name: nm, xAxisIndex: i, yAxisIndex: i,
      data: freqs.map((f, j) => [f, vals[j]]),
      showSymbol: false, symbol: 'none', clip: true, z: 2 + k,
      color: col, itemStyle: {color: col},
      lineStyle: {width: 1.4, color: col, join: 'round'}});
  });
}

const chart = echarts.init(document.getElementById('c'), null, {renderer: 'canvas'});
chart.setOption({
  animation: false,
  backgroundColor: '#ffffff',
  textStyle: {fontFamily: FONT},
  title: titles, grid: grids, xAxis: xAxes, yAxis: yAxes, legend: legends, series: series
});
</script>
</body>
</html>
